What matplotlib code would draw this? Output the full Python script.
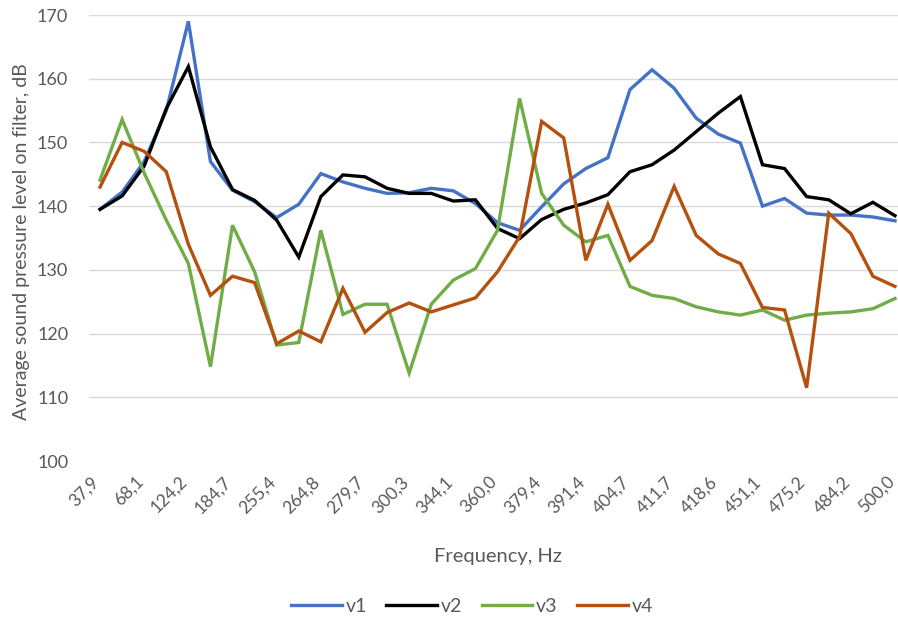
import matplotlib
matplotlib.use("Agg")
import matplotlib.pyplot as plt
import matplotlib.transforms as mtransforms
import numpy as np

# frequency labels (every second measurement point is labelled)
tick_labels = ["37,9", "68,1", "124,2", "184,7", "255,4", "264,8", "279,7",
               "300,3", "344,1", "360,0", "379,4", "391,4", "404,7", "411,7",
               "418,6", "451,1", "475,2", "484,2", "500,0"]

v1 = [139.5, 142.2, 147.0, 155.0, 169.0, 147.0, 142.5, 140.7, 138.2, 140.3,
      145.1, 143.8, 142.8, 142.0, 142.1, 142.8, 142.4, 140.4, 137.4, 136.2,
      139.9, 143.5, 145.9, 147.6, 158.3, 161.4, 158.5, 153.8, 151.3, 149.9,
      140.0, 141.2, 138.9, 138.6, 138.6, 138.3, 137.7]
v2 = [139.5, 141.6, 146.3, 155.3, 161.9, 149.3, 142.6, 140.9, 137.8, 132.0,
      141.5, 144.9, 144.6, 142.8, 142.0, 142.0, 140.8, 141.0, 136.5, 134.9,
      137.9, 139.5, 140.5, 141.8, 145.4, 146.5, 148.8, 151.7, 154.6, 157.2,
      146.5, 145.9, 141.5, 141.0, 138.8, 140.6, 138.5]
v3 = [144.1, 153.6, 145.2, 137.8, 131.0, 114.8, 137.0, 129.7, 118.2, 118.6,
      136.2, 123.0, 124.6, 124.6, 113.8, 124.6, 128.4, 130.2, 136.2, 156.9,
      142.0, 137.0, 134.4, 135.4, 127.4, 126.0, 125.5, 124.2, 123.4, 122.9,
      123.7, 122.1, 122.9, 123.2, 123.4, 123.9, 125.5]
v4 = [143.0, 150.0, 148.6, 145.4, 134.0, 126.0, 129.0, 128.0, 118.4, 120.4,
      118.7, 127.1, 120.2, 123.3, 124.8, 123.4, 124.5, 125.6, 129.7, 135.2,
      153.3, 150.7, 131.5, 140.3, 131.5, 134.6, 143.1, 135.4, 132.5, 131.0,
      124.1, 123.7, 111.5, 138.9, 135.7, 129.0, 127.4]

series = [("v1", v1, "#4472C4"), ("v2", v2, "#000000"),
          ("v3", v3, "#70AD47"), ("v4", v4, "#B5500F")]

plt.rcParams['font.family'] = ['Lato', 'DejaVu Sans']
grey = "#595959"

fig = plt.figure(figsize=(8.98, 6.21), dpi=100)
W, H = 898, 621
ax = fig.add_axes([89 / W, 1 - 461 / H, 817 / W, 446 / H])

x = np.arange(len(v1))
for name, vals, col in series:
    ax.plot(x, vals, color=col, lw=2.4, label=name, solid_joinstyle="miter")

ax.set_xlim(-0.5, len(v1) - 0.5)
ax.set_ylim(100, 170)
ax.set_yticks(np.arange(100, 171, 10))
ax.yaxis.grid(True, color="#d9d9d9", lw=1)
ax.set_axisbelow(True)
ax.get_ygridlines()[0].set_visible(False)

ax.set_xticks(x[::2])
ax.set_xticklabels(tick_labels, rotation=45, ha="right", va="top",
                   rotation_mode="anchor")
ax.tick_params(axis="both", length=0, colors=grey, labelsize=13)
ax.tick_params(axis="x", labelsize=12.5, pad=9)
ax.tick_params(axis="y", pad=15)
# nudge the slanted labels a little left so the last one stays inside
shift = mtransforms.ScaledTranslation(-9 / 100, 0, fig.dpi_scale_trans)
for lbl in ax.get_xticklabels():
    lbl.set_transform(lbl.get_transform() + shift)
for s in ax.spines.values():
    s.set_visible(False)

ax.set_ylabel("Average sound pressure level on filter, dB", color=grey,
              fontsize=14)
ax.yaxis.set_label_coords(-(89 - 30) / 817, (461 - 242) / 446)
ax.set_xlabel("Frequency, Hz", color=grey, fontsize=14.5)
ax.xaxis.set_label_coords((498 - 89) / 817, -(548 - 461) / 446)

leg = fig.legend(loc="center", bbox_to_anchor=(472 / W, 1 - 606 / H), ncol=4,
                 frameon=False, fontsize=14, handlelength=2.6,
                 handletextpad=0.2, columnspacing=1.0)
for t in leg.get_texts():
    t.set_color(grey)

fig.savefig("out.png", dpi=100)
